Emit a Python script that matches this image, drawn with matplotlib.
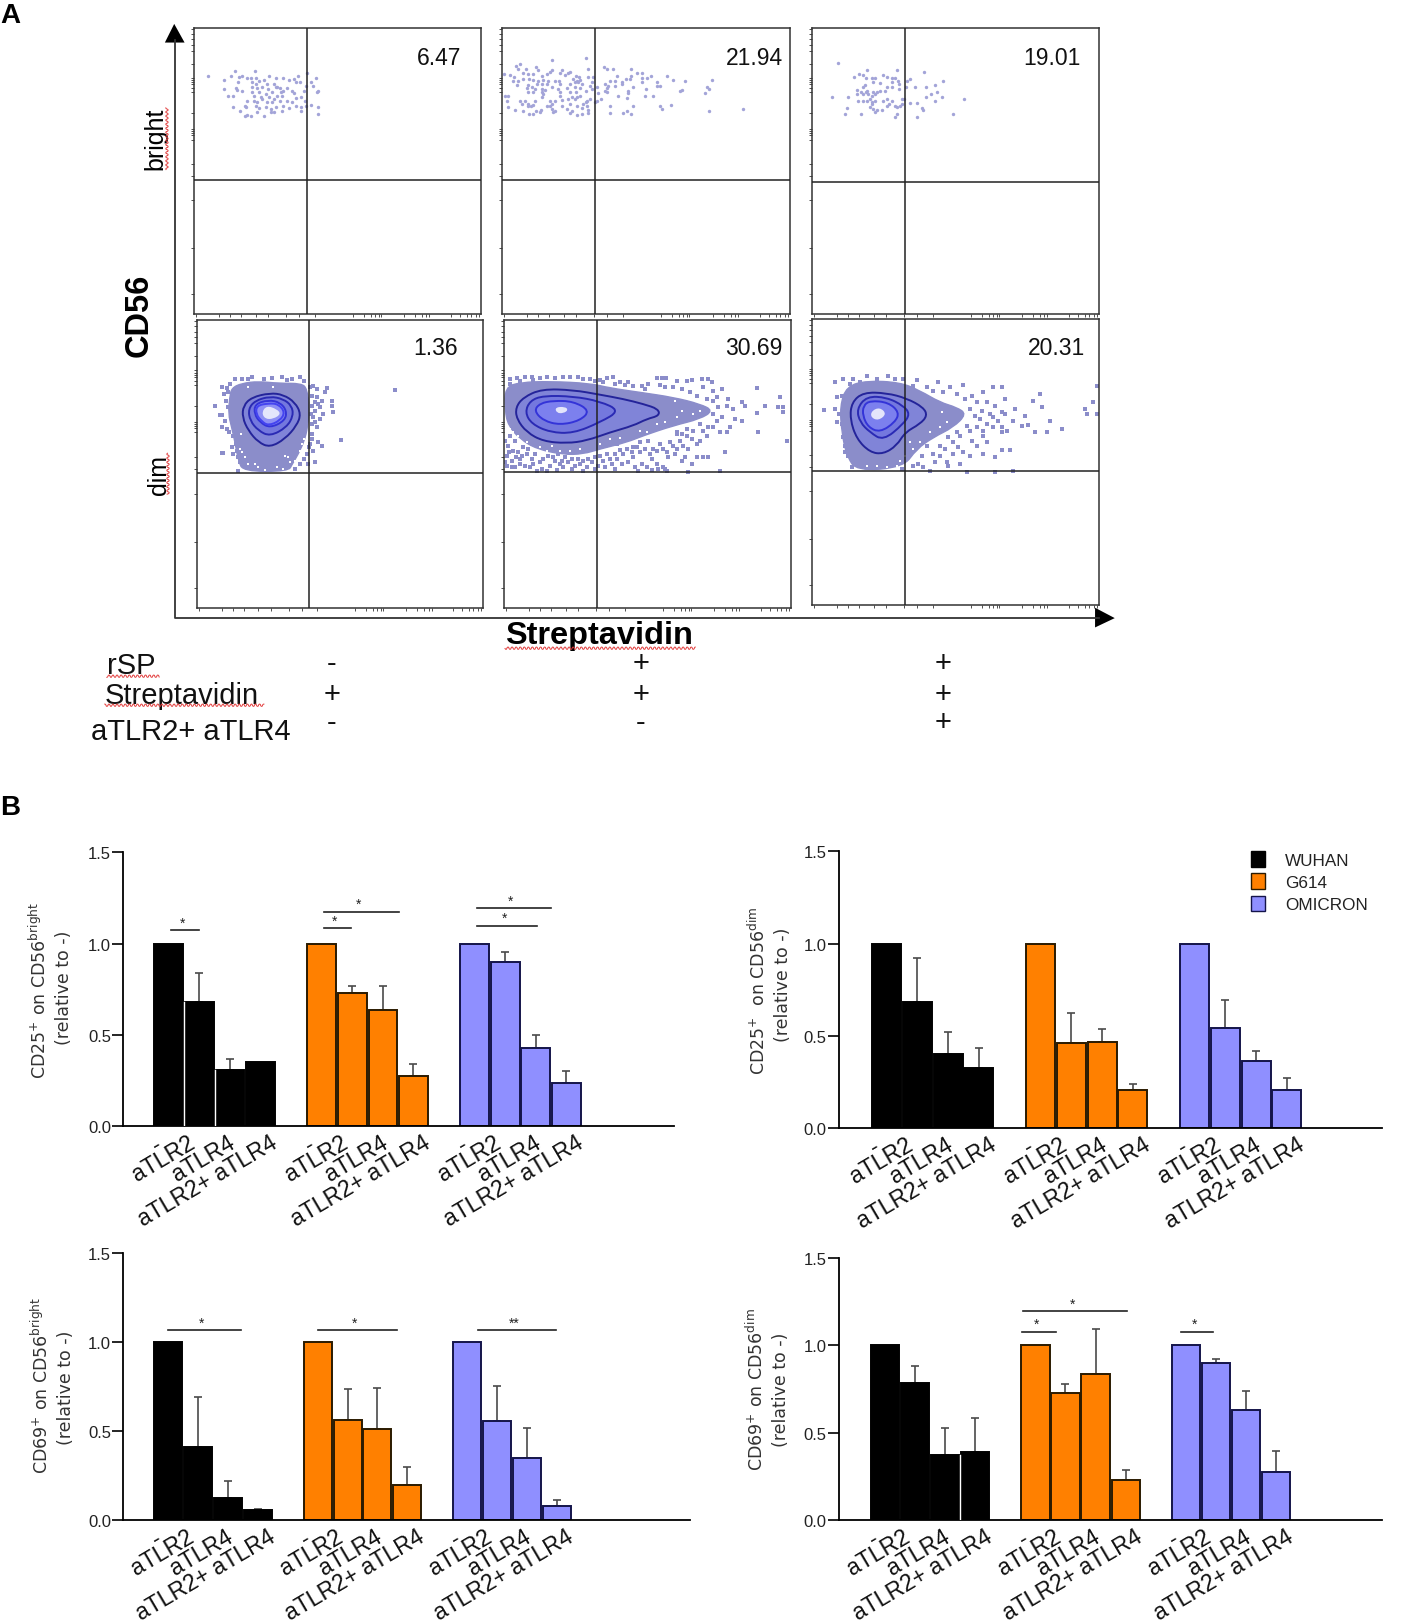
import numpy as np
import matplotlib
matplotlib.use('Agg')
import matplotlib.pyplot as plt
from matplotlib.patches import Patch, PathPatch, Polygon
from matplotlib.path import Path

plt.rcParams['font.family'] = ['Liberation Sans', 'DejaVu Sans']
plt.rcParams['mathtext.default'] = 'regular'

W, H = 1402, 1624
S = W / 1352.0

VARIANTS = ['WUHAN', 'G614', 'OMICRON']
VARIANT_COLORS = ['#000000', '#ff8000', '#8f8fff']
VARIANT_EDGES = ['#000000', '#2a1a00', '#14144a']
TREATMENTS = ['-', 'aTLR2', 'aTLR4', 'aTLR2+ aTLR4']
Y_TICKS = [0.0, 0.5, 1.0, 1.5]

# bar heights and top of the error whisker (None = no whisker)
cd25_bright = [[1, .68, .31, .35], [1, .73, .635, .275], [1, .90, .43, .235]]
cd25_bright_top = [[None, .84, .37, None], [None, .77, .77, .34], [None, .955, .50, .305]]
cd25_dim = [[1, .685, .40, .325], [1, .46, .47, .205], [1, .545, .365, .21]]
cd25_dim_top = [[None, .925, .52, .435], [None, .625, .54, .24], [None, .695, .42, .275]]
cd69_bright = [[1, .41, .125, .06], [1, .56, .51, .20], [1, .555, .35, .08]]
cd69_bright_top = [[None, .69, .22, .065], [None, .735, .74, .30], [None, .755, .52, .115]]
cd69_dim = [[1, .785, .375, .39], [1, .73, .835, .23], [1, .90, .63, .275]]
cd69_dim_top = [[None, .88, .525, .585], [None, .78, 1.095, .285], [None, .92, .74, .395]]

# significance bars: x0, x1 (bar index), y, label
cd25_bright_sig = [(.08, .99, 1.074, '*'), (5.09, 5.97, 1.085, '*'), (5.09, 7.53, 1.176, '*'),
                   (10.08, 12.04, 1.097, '*'), (10.08, 12.48, 1.193, '*')]
cd25_dim_sig = []
cd69_bright_sig = [(-.01, 2.43, 1.064, '*'), (5.0, 7.65, 1.064, '*'), (10.37, 12.98, 1.064, '**')]
cd69_dim_sig = [(4.57, 5.67, 1.077, '*'), (4.6, 8.05, 1.196, '*'), (9.84, 10.91, 1.077, '*')]

# white hairlines between the black bars, bar boundary and height
cd25_bright_gaps = [(.5, .68), (1.5, .31)]
cd69_dim_gaps = [(2.5, .375)]

# flow plots: gate percentages
gate_pct = ['6.47', '21.94', '19.01', '1.36', '30.69', '20.31']

# in zoom pixels (3x), each with its zoom origin
dots_bright_1 = [(42,80),(90,93),(110,80),(124,67),(184,67),(135,85),(145,82),(160,88),(170,88),(185,88),(225,80),(245,88),(268,88),(285,93),(300,90),(312,80),(340,73),(352,100),(358,110),(365,87),
    (133,100),(125,118),(130,122),(90,120),(145,127),(103,141),(117,141),(175,100),(185,105),(195,95),(210,93),(220,105),(240,105),(250,115),(175,115),(190,118),(205,115),(222,120),(245,115),(258,118),(268,125),(278,118),(262,128),(295,125),(300,133),(305,100),(318,100),(330,125),(335,110),(368,128),(372,125),
    (175,130),(195,130),(215,135),(235,130),(180,140),(200,145),(225,145),(240,150),(250,140),(265,140),(180,155),(190,160),(205,150),(220,160),(235,160),(258,155),(280,155),(295,160),(305,148),(320,145),(332,155),(158,155),(152,170),(118,173),(155,175),(185,170),(195,178),(215,175),(230,180),(245,175),(268,170),(285,178),(305,170),(320,175),(335,172),(352,167),(372,173),(138,187),(152,200),(160,197),(170,200),(190,190),(210,200),(230,188),(240,190),(265,185),(320,187),(372,195)]
dots_bright_2 = [(257,27),(155,33),(48,50),(60,45),(55,60),(78,60),(108,55),(115,62),(155,62),(185,62),(210,68),(265,60),(312,53),(320,60),(338,60),(392,60),
    (12,75),(30,78),(42,85),(70,72),(85,75),(100,75),(125,80),(140,75),(150,70),(180,72),(195,78),(205,72),(228,82),(238,85),(265,85),(280,85),(350,80),(392,80),(412,73),(425,73),(452,80),(500,80),(378,90),(390,90),(425,88),(440,88),(520,93),(555,95),(635,93),
    (40,95),(55,95),(68,90),(88,90),(100,92),(115,95),(130,92),(145,95),(165,95),(178,95),(220,90),(230,95),(240,92),(275,100),(330,95),(345,95),(365,100),(425,98),(50,108),(85,108),(110,105),(125,105),(140,105),(180,105),(210,105),(225,100),(235,100),(245,105),(270,110),(315,105),(325,110),(365,105),(472,100),(472,112),(480,112),
    (80,118),(95,115),(105,120),(125,120),(135,122),(155,115),(175,120),(200,118),(225,115),(240,118),(258,125),(275,120),(290,115),(320,118),(345,112),(398,113),(622,113),(628,120),(545,122),(85,128),(100,130),(125,130),(130,135),(180,130),(210,130),(228,130),(295,132),(315,125),(322,130),(385,125),(385,133),(438,120),(540,127),
    (15,140),(25,140),(125,145),(180,142),(215,143),(230,145),(240,140),(290,155),(302,150),(355,140),(380,147),(435,140),(460,140),(615,133),(20,155),(60,155),(75,155),(105,155),(150,155),(165,155),(185,152),(205,150),(225,150),(260,155),(270,150),
    (65,165),(85,165),(100,168),(155,165),(210,165),(230,170),(250,165),(258,160),(285,160),(25,175),(85,172),(92,172),(140,172),(150,172),(185,170),(245,178),(262,172),(330,172),(400,172),(480,172),(487,180),(512,167),(45,182),(68,187),(108,185),(122,182),(155,180),(165,185),(200,180),(215,185),(265,182),(730,181),(88,195),(100,195),(120,190),(160,190),(210,193),(230,198),(245,195),(265,193),(330,193),(370,193),(380,187),(392,195),(628,187)]
dots_bright_3 = [(25,42),(112,62),(200,62),(282,68),(72,83),(88,75),(100,77),(108,88),(125,88),(135,88),(160,77),(170,83),(185,88),(195,88),(205,95),(240,90),(232,97),(338,96),(150,102),(185,100),(105,108),(100,115),(130,100),(208,105),(80,122),(92,128),(108,130),(112,125),(130,128),(140,128),(150,127),(165,127),(172,115),(185,115),(208,120),(228,115),(255,115),(288,115),(315,108),(82,135),(100,135),(115,135),(125,140),(135,135),(322,128),(302,135),(288,145),(335,143),(5,143),(53,143),(403,150),(85,155),(100,155),(112,155),(120,150),(125,158),(135,157),(160,155),(172,150),(185,155),(215,150),(222,150),(178,165),(125,165),(195,172),(210,170),(215,165),(240,162),(262,162),(315,155),(52,176),(120,175),(130,180),(140,182),(155,182),(172,170),(202,175),(275,178),(280,183),(45,196),(92,196),(135,188),(195,203),(202,196),(262,203),(368,196)]

cloud_dim_1 = [(80,72),(110,58),(160,52),(220,58),(290,58),(306,75),(313,130),(308,190),(298,230),(280,270),(262,300),(250,322),(115,322),(100,290),(90,235),(80,190),(70,150),(74,100)]
holes_dim_1 = [(250,280),(270,290),(285,260),(150,300),(160,310),(215,310),(240,275),(120,280),(105,255),(108,210),(296,225),(298,245),(205,70),(130,70),(255,295),(130,300),(180,318),(235,315),(290,240),(110,265)]
dots_dim_1 = [(90,45),(110,45),(130,45),(178,45),(232,40),(245,48),(285,40),(298,50),(50,70),(65,72),(68,85),(82,92),(30,127),(45,152),(50,152),(52,190),(65,195),(60,170),(70,130),(62,110),(55,268),(50,268),(85,270),(100,280),(105,295),(115,300),(98,320),(325,65),(335,75),(365,72),(360,85),(320,95),(335,100),(350,110),(380,112),(380,125),(345,130),(330,140),(385,145),(325,160),(345,165),(320,180),(335,190),(320,210),(340,235),(350,245),(325,260),(330,295),(310,300),(408,227),(570,78),(320,125),(322,225),(312,250),(305,270),(72,205),(85,215),(80,250),(92,240),(95,262),(315,70),(340,120),(330,115),(355,150),(318,150),(330,175),(315,240),(298,285),(285,300),(270,315),(140,40),(200,42),(260,45),(75,60),(58,90)]
rings_dim_1 = [[(195,87),(235,92),(270,115),(288,150),(275,185),(240,225),(195,250),(160,235),(130,200),(112,160),(115,125),(140,100)],
               [(195,97),(235,105),(260,125),(265,155),(245,190),(195,217),(160,200),(135,170),(130,135),(150,110)],
               [(190,108),(225,115),(245,140),(240,170),(195,192),(165,175),(148,150),(150,120)],
               [(190,118),(220,120),(240,145),(225,170),(190,185),(170,172),(153,150),(155,125)]]
core_dim_1 = [(185,125),(215,135),(228,150),(205,165),(180,165),(170,145)]

cloud_dim_2 = [(15,70),(60,55),(150,52),(270,58),(330,72),(420,85),(520,100),(600,120),(640,140),(600,165),(520,185),(430,215),(380,235),(300,255),(250,270),(190,272),(110,255),(60,225),(25,185),(15,140)]
holes_dim_2 = [(120,250),(140,260),(155,245),(180,262),(210,262),(240,255),(300,240),(330,225),(360,222),(420,200),(470,180),(530,160),(545,140),(580,150),(600,140),(525,110),(545,100),(30,195),(40,205),(55,215),(80,235),(495,175),(440,205)]
dots_dim_2 = [(30,45),(50,42),(75,40),(95,38),(120,42),(140,38),(165,42),(190,40),(210,38),(235,40),(250,45),(270,45),(300,48),(320,42),(340,38),(360,55),(385,55),(400,65),(425,65),(445,60),(470,42),(485,42),(498,42),(480,62),(495,70),(530,50),(560,52),(575,48),(605,45),(625,45),(635,55),(610,70),(640,80),(665,75),(650,100),(640,110),(685,105),(680,125),(725,115),(735,125),(770,72),(795,125),(840,98),(835,130),(850,130),(770,148),(850,145),(700,135),(665,160),(705,165),(725,170),(690,190),(660,205),(680,205),(775,205),(860,232),(675,265),
    (30,215),(45,230),(25,245),(40,260),(20,275),(55,265),(70,250),(35,290),(60,285),(80,270),(95,285),(20,305),(45,310),(75,305),(100,300),(120,295),(125,315),(150,305),(165,290),(175,270),(190,310),(205,295),(225,305),(240,300),(260,310),(275,295),(295,305),(310,290),(320,270),(335,300),(350,285),(370,270),(385,295),(400,280),(420,265),(425,300),(440,310),(455,285),(470,300),(490,310),(495,315),(350,240),(400,250),(420,235),(445,230),(460,255),(480,240),(500,265),(520,245),(540,230),(565,255),(590,280),(610,280),(625,280),(575,300),(555,280),(525,270),(505,280),(600,230),(620,215),(590,240),(640,190),(610,200),(560,215),(530,210),(545,290),(565,325),(660,320),(500,320),
    # second pass over the stippled lower part
    (15,230),(28,265),(48,280),(65,275),(85,255),(105,270),(130,285),(145,275),(160,280),(185,290),(195,280),(215,285),(235,285),(250,290),(265,285),(285,280),(300,275),(330,285),(345,270),(360,258),(380,255),(395,265),(410,250),(435,255),(450,270),(470,262),(490,255),(510,235),(530,255),(550,245),(575,225),(15,295),(35,310),(60,300),(90,310),(110,320),(140,320),(170,318),(180,300),(215,315),(250,320),(285,315),(315,310),(345,315),(365,300),(405,310),(415,320),(455,318),(475,315),(530,205),(545,210),(580,200),(625,190),(650,170),(600,180),(560,195),(640,150),(655,130),(620,105),(590,95),(570,85),(545,75),(520,70),(435,75),(375,62),(345,60),(310,55),(285,50),(100,48),(60,50),(30,60)]
rings_dim_2 = [[(125,75),(220,78),(300,92),(370,105),(430,120),(475,135),(478,155),(440,165),(400,185),(330,205),(260,230),(200,238),(130,232),(80,205),(50,165),(47,130),(70,100)],
               [(130,95),(220,97),(300,112),(360,140),(300,175),(220,208),(150,205),(95,180),(75,145),(90,110)],
               [(160,110),(220,112),(270,140),(240,170),(180,183),(130,170),(102,140),(120,118)]]
core_dim_2 = [(165,130),(195,128),(205,138),(190,148),(170,147)]

cloud_dim_3 = [(440,262),(500,245),(600,250),(660,275),(720,310),(770,325),(800,345),(760,385),(700,415),(650,450),(610,505),(470,516),(440,470),(425,400),(420,320)]
holes_dim_3 = [(600,485),(615,470),(640,450),(660,430),(720,385),(740,370),(500,500),(725,340),(590,500),(560,505),(530,500),(630,430),(690,400)]
dots_dim_3 = [(372,332),(405,250),(430,240),(410,295),(405,330),(412,370),(425,375),(430,415),(435,440),(445,470),(460,240),(500,230),(530,240),(565,230),(610,240),(650,243),(715,250),(680,265),(700,275),(750,265),(790,258),(815,290),(850,280),(880,265),(905,265),(860,310),(885,320),(915,300),(905,340),(870,345),(840,360),(880,385),(905,400),(920,395),(945,330),(975,350),(1000,305),(1020,285),(1025,325),(1050,365),(1085,390),(1040,398),(1005,398),(965,380),(985,378),(850,410),(810,395),(780,410),(760,430),(720,440),(790,460),(810,470),(850,465),(885,475),(905,452),(930,452),(780,495),(740,490),(690,515),(640,500),(600,490),(605,510),(1155,330),(1160,345),(1180,310),(1192,260),(1192,345),(940,515),(885,520),(800,518),
    (730,280),(770,285),(795,300),(830,310),(810,330),(845,335),(825,350),(880,355),(860,375),(830,385),(800,380),(770,400),(745,415),(735,450),(700,465),(680,440),(665,470),(655,495),(720,470),(760,465),(830,440),(860,430),(895,365),(915,345),(940,365),(905,385),(850,395),(815,425),(775,445),(745,500),(670,505),(705,490),(660,285),(640,262),(585,240),(480,250),(450,255),(425,290),(418,345),(435,460),(455,505)]
rings_dim_3 = [[(490,280),(560,282),(620,298),(670,325),(682,350),(660,375),(615,400),(590,440),(550,465),(510,460),(470,420),(450,360),(455,310)],
               [(500,292),(560,295),(610,320),(630,345),(610,375),(550,425),(510,400),(480,370),(470,330)],
               [(510,305),(565,310),(598,340),(585,370),(540,400),(505,385),(488,350),(490,320)]]
core_dim_3 = [(515,335),(540,325),(560,345),(535,365),(512,355)]

# log-ish tick positions along the flow axes, percent of the panel
flow_xticks = [.8, 8.6, 12.5, 16.4, 21.5, 25.7, 32, 36.6, 42, 55.3, 59.2, 61.5, 63, 64.3, 65, 73.2, 77, 79.4, 81, 82, 89.6, 92.7, 95, 96.6, 98.1, 99.2]
flow_yticks = [99.6, 98, 96, 94, 92, 87.4, 82.5, 81.7, 81, 80.3, 78.9, 77.5, 70.3, 64.6, 63.9, 63.2, 62.5, 61, 52.5, 48.2, 39.7, 23, 6.9]

DOT = '#8b8dca'
RING_COLORS = ['#24249a', '#2a2ab4', '#3434d8', '#4444f0']


def rect_axes(fig, l, t, r, b, **kw):
    return fig.add_axes([l / W, 1 - b / H, (r - l) / W, (b - t) / H], **kw)


def smooth_path(pts):
    # closed quadratic spline, the points are control vertices
    pts = np.array(pts, dtype=float)
    mids = (pts + np.roll(pts, -1, axis=0)) / 2
    verts = [mids[-1]]
    codes = [Path.MOVETO]
    for p, m in zip(pts, mids):
        verts += [p, m]
        codes += [Path.CURVE3, Path.CURVE3]
    return Path(verts, codes)


def flow_panel(fig, box, vline, hline, pct, pct_xy, dots, origin, color=DOT, size=7,
               cloud=None, holes=None, rings=None, core=None):
    l, t, r, b = box
    ax = rect_axes(fig, l, t, r, b)
    ax.set_xlim(l, r)
    ax.set_ylim(b, t)
    ox, oy = origin

    def read(pts):
        a = np.array(pts, dtype=float)
        return np.column_stack([ox + a[:, 0] / 3, oy + a[:, 1] / 3])

    if cloud is not None:
        ax.add_patch(PathPatch(smooth_path(read(cloud)), fc=color, ec=color, lw=1, zorder=1))
    d = read(dots)
    ax.scatter(d[:, 0], d[:, 1], s=size, c=color, linewidths=0, zorder=1.5, marker='s' if cloud is not None else 'o')
    if holes is not None:
        h = read(holes)
        ax.scatter(h[:, 0], h[:, 1], s=3.5, c='white', linewidths=0, zorder=1.6, marker='s')
    if rings is not None:
        fills = ['#8084d8', '#7478de', '#7c80ee', '#8e90f4']
        for i, ring in enumerate(rings):
            ax.add_patch(PathPatch(smooth_path(read(ring)), fc=fills[i], ec=RING_COLORS[i], lw=1.4, zorder=2 + i))
        ax.add_patch(PathPatch(smooth_path(read(core)), fc='#e4e6fb', ec='none', zorder=7))

    ax.axvline(vline, color='#222222', lw=1.1, zorder=8)
    ax.axhline(hline, color='#222222', lw=1.1, zorder=8)
    ax.set_xticks([l + (r - l) * v / 100 for v in flow_xticks])
    ax.set_yticks([b - (b - t) * v / 100 for v in flow_yticks])
    ax.tick_params(length=2, width=.6, labelleft=False, labelbottom=False, color='#333333')
    for sp in ax.spines.values():
        sp.set_color('#333333')
        sp.set_linewidth(1.1)
    ov.text(pct_xy[0], pct_xy[1], pct, ha='right', va='center', fontsize=16.5, color='#111111')
    return ax


def bar_panel(fig, box, heights, tops, sig, ylab, ylab2, xlab_pos, gaps=()):
    # box in the 1352 view: left spine, y at 1.5, x axis end, y at 0
    l, t, r, b = box
    ax = rect_axes(fig, l * S, t * S, r * S, b * S)
    unit = xlab_pos['bar']
    ax.set_xlim(-.5 - (xlab_pos['start'] - l) / unit, -.5 + (r - xlab_pos['start']) / unit)
    ax.set_ylim(0, 1.5)
    ax.patch.set_alpha(0)
    for k, group in enumerate(heights):
        xs = np.arange(4) + 5 * k
        ax.bar(xs, group, width=.94, color=VARIANT_COLORS[k], edgecolor=VARIANT_EDGES[k], linewidth=1.4, zorder=2)
        for x, h, top in zip(xs, group, tops[k]):
            if top is not None:
                ax.errorbar(x, h, yerr=[[0], [top - h]], ecolor='#4a4a4a', elinewidth=1.2, capsize=3,
                            capthick=1.2, zorder=1)
        for n, lab in enumerate(TREATMENTS):
            dx = [-14, -12, -3, 9][n]
            ax.annotate(lab, xy=(xs[n], 0), xycoords='data', xytext=(dx * .75, -3 if n else -4),
                        textcoords='offset points', rotation=30.5, rotation_mode='anchor',
                        ha='right', va='top', fontsize=16.6, color='#111111', annotation_clip=False)
    for x, h in gaps:
        ax.plot([x, x], [0, h], color='white', lw=1, zorder=3)
    for x0, x1, y, lab in sig:
        ax.plot([x0, x1], [y, y], color='#222222', lw=1.2, zorder=3)
        ax.text((x0 + x1) / 2 - .1, y + .004, lab, ha='center', va='bottom', fontsize=10, color='#222222', zorder=3)
    ax.set_yticks(Y_TICKS)
    ax.set_yticklabels(['%.1f' % v for v in Y_TICKS], fontsize=12, color='#222222')
    ax.set_xticks([])
    ax.tick_params(axis='y', length=8, width=1.2, pad=1)
    ax.spines['top'].set_visible(False)
    ax.spines['right'].set_visible(False)
    ax.spines['left'].set_linewidth(1.3)
    ax.spines['bottom'].set_linewidth(1.3)
    for (x, y, s) in [ylab, ylab2]:
        ov.text(x, y, s, rotation=90, ha='center', va='center', fontsize=12.5, color='#333333',
                family='DejaVu Sans')
    return ax


def wavy(x0, x1, y, vertical=False):
    t = np.arange(x0, x1, .5)
    w = y + 1.1 * np.sign(np.sin(t * 1.6)) * np.abs(np.sin(t * 1.6)) ** .5
    if vertical:
        ov.plot(w, t, color='#e23b3b', lw=.7, zorder=5)
    else:
        ov.plot(t, w, color='#e23b3b', lw=.7, zorder=5)


fig = plt.figure(figsize=(W / 100, H / 100), dpi=100)

# overlay for arrows and loose text
ov = fig.add_axes([0, 0, 1, 1], zorder=10)
ov.set_xlim(0, 1352)
ov.set_ylim(1566, 0)
ov.axis('off')
ov.patch.set_alpha(0)

flow_panel(fig, (194, 29, 481, 315), 307, 181, gate_pct[0], (445, 56), dots_bright_1, (194, 50), color='#a3a4d8', size=6)
flow_panel(fig, (502, 29, 790, 315), 594.5, 181, gate_pct[1], (755, 56), dots_bright_2, (500, 50), color='#a3a4d8', size=6)
flow_panel(fig, (812, 29, 1099, 315), 905, 183, gate_pct[2], (1042, 56), dots_bright_3, (830, 50), color='#a3a4d8', size=6)
flow_panel(fig, (197, 321, 483, 609), 309, 473.5, gate_pct[3], (442, 336), dots_dim_1, (205, 365),
           cloud=cloud_dim_1, holes=holes_dim_1, rings=rings_dim_1, core=core_dim_1)
flow_panel(fig, (504, 321, 791, 609), 596.5, 473, gate_pct[4], (755, 336), dots_dim_2, (500, 365),
           cloud=cloud_dim_2, holes=holes_dim_2, rings=rings_dim_2, core=core_dim_2)
flow_panel(fig, (812, 320, 1099, 606), 905, 472, gate_pct[5], (1046, 336), dots_dim_3, (700, 300),
           cloud=cloud_dim_3, holes=holes_dim_3, rings=rings_dim_3, core=core_dim_3)

# axis arrows of panel A
ov.plot([169, 169, 1060], [40, 597, 597], color='#333333', lw=1.3)
ov.add_patch(Polygon([(159, 42), (178, 42), (168, 24)], fc='black', ec='none'))
ov.add_patch(Polygon([(1056, 587), (1056, 606), (1075, 597)], fc='black', ec='none'))

ov.text(0, 15, 'A', fontsize=20, fontweight='bold', ha='left', va='center')
ov.text(0, 779, 'B', fontsize=20, fontweight='bold', ha='left', va='center')
ov.text(134, 304, 'CD56', fontsize=23.5, fontweight='bold', rotation=90, ha='center', va='center')
ov.text(150, 134, 'bright', fontsize=18, rotation=90, ha='center', va='center')
ov.text(153, 458, 'dim', fontsize=18, rotation=90, ha='center', va='center')
wavy(105, 165, 161, vertical=True)
wavy(438, 478, 162, vertical=True)
ov.text(578, 613, 'Streptavidin', fontsize=23.4, fontweight='bold', ha='center', va='center')
wavy(487, 671, 626)

row_labels = ['rSP', 'Streptavidin', 'aTLR2+ aTLR4']
row_signs = [['-', '+', '+'], ['+', '+', '+'], ['-', '-', '+']]
for lab, x, y in zip(row_labels, [103, 101, 88], [642, 671, 706]):
    ov.text(x, y, lab, fontsize=21, ha='left', va='center', color='#111111')
wavy(103, 154, 653)
wavy(101, 255, 681)
for row, y in zip(row_signs, [640, 670, 697]):
    for s, x in zip(row, [320, 618, 909]):
        ov.text(x, y, s, fontsize=21, ha='center', va='center', color='#111111')

ax1 = bar_panel(fig, (119, 823, 650, 1087), cd25_bright, cd25_bright_top, cd25_bright_sig,
                (38, 955, 'CD25$^{+}$ on CD56$^{bright}$'), (62, 953, '(relative to -)'),
                {'start': 148, 'bar': 29.5}, gaps=cd25_bright_gaps)
ax2 = bar_panel(fig, (809, 822, 1333, 1089), cd25_dim, cd25_dim_top, cd25_dim_sig,
                (731, 955, 'CD25$^{+}$  on CD56$^{dim}$'), (755, 950, '(relative to -)'),
                {'start': 840, 'bar': 29.7})
ax3 = bar_panel(fig, (119, 1209, 665, 1467), cd69_bright, cd69_bright_top, cd69_bright_sig,
                (40, 1336, 'CD69$^{+}$ on CD56$^{bright}$'), (64, 1338, '(relative to -)'),
                {'start': 148, 'bar': 28.8})
ax4 = bar_panel(fig, (809, 1214, 1333, 1467), cd69_dim, cd69_dim_top, cd69_dim_sig,
                (729, 1340, 'CD69$^{+}$ on CD56$^{dim}$'), (753, 1340, '(relative to -)'),
                {'start': 839, 'bar': 29}, gaps=cd69_dim_gaps)

handles = [Patch(facecolor=c, edgecolor=e, linewidth=1) for c, e in zip(VARIANT_COLORS, VARIANT_EDGES)]
ax2.legend(handles, VARIANTS, loc='upper left', bbox_to_anchor=(.73, 1.056), frameon=False, fontsize=12.3,
           handlelength=.8, handleheight=1.0, handletextpad=1.2, labelspacing=.33, labelcolor='#222222')

fig.savefig('out.png', dpi=100)
